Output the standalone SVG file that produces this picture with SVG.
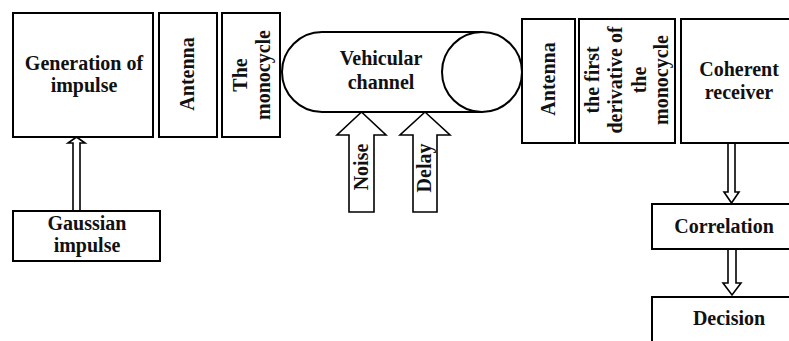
<svg xmlns="http://www.w3.org/2000/svg" width="789" height="341" viewBox="0 0 789 341">
<style>
.b{fill:#fff;stroke:#000;stroke-width:2}
.a{fill:#fff;stroke:#000;stroke-width:1.6;stroke-linejoin:miter}
text{font-family:"Liberation Serif","Times New Roman",serif;font-weight:bold;font-size:20px;fill:#111;text-anchor:middle}
</style>
<rect width="789" height="341" fill="#fff"/>
<g id="connectors">
<polygon class="a" points="76.5,137 85,143 80,143 80,211 73,211 73,143 68,143"/>
<polygon class="a" points="361.5,112 386,135 374,135 374,212 349,212 349,135 337,135"/>
<polygon class="a" points="425,112 450,135 437,135 437,212 413,212 413,135 400,135"/>
<polygon class="a" points="728,143 735,143 735,192 739,192 731.5,203 724,192 728,192"/>
<polygon class="a" points="728,249 736,249 736,283 741,283 732,295 723,283 728,283"/>
</g>
<g id="gen"><rect class="b" x="13" y="13" width="140" height="124"/><text x="84" y="70">Generation of</text><text x="84" y="92">impulse</text></g>
<g id="antenna1"><rect class="b" x="159" y="13" width="58" height="124"/><text transform="translate(194,74) rotate(-90)">Antenna</text></g>
<g id="monocycle"><rect class="b" x="222" y="13" width="58" height="124"/><g transform="translate(0,75) rotate(-90)"><text x="0" y="247">The</text><text x="0" y="270">monocycle</text></g></g>
<g id="channel"><path class="b" d="M482,32 L322,32 A40,40 0 0 0 322,112 L482,112"/><circle class="b" cx="482" cy="72" r="40"/><text x="381" y="65">Vehicular</text><text x="381" y="89">channel</text></g>
<g id="noise"><text transform="translate(368,167) rotate(-90)">Noise</text></g>
<g id="delay"><text transform="translate(431,168) rotate(-90)">Delay</text></g>
<g id="antenna2"><rect class="b" x="522" y="19" width="53" height="124"/><text transform="translate(555,79) rotate(-90)">Antenna</text></g>
<g id="derivative"><rect class="b" x="579" y="19" width="96" height="124"/><g transform="translate(0,80) rotate(-90)"><text x="0" y="599">the first</text><text x="0" y="622">derivative of</text><text x="0" y="646">the</text><text x="0" y="668">monocycle</text></g></g>
<g id="coherent"><rect class="b" x="681" y="19" width="112" height="124"/><text x="739" y="76">Coherent</text><text x="739" y="99">receiver</text></g>
<g id="gaussian"><rect class="b" x="13" y="211" width="147" height="50"/><text x="87" y="230">Gaussian</text><text x="87" y="252">impulse</text></g>
<g id="correlation"><rect class="b" x="652" y="204" width="142" height="45"/><text x="724" y="233">Correlation</text></g>
<g id="decision"><rect class="b" x="652" y="297" width="142" height="50"/><text x="729" y="325">Decision</text></g>
</svg>
